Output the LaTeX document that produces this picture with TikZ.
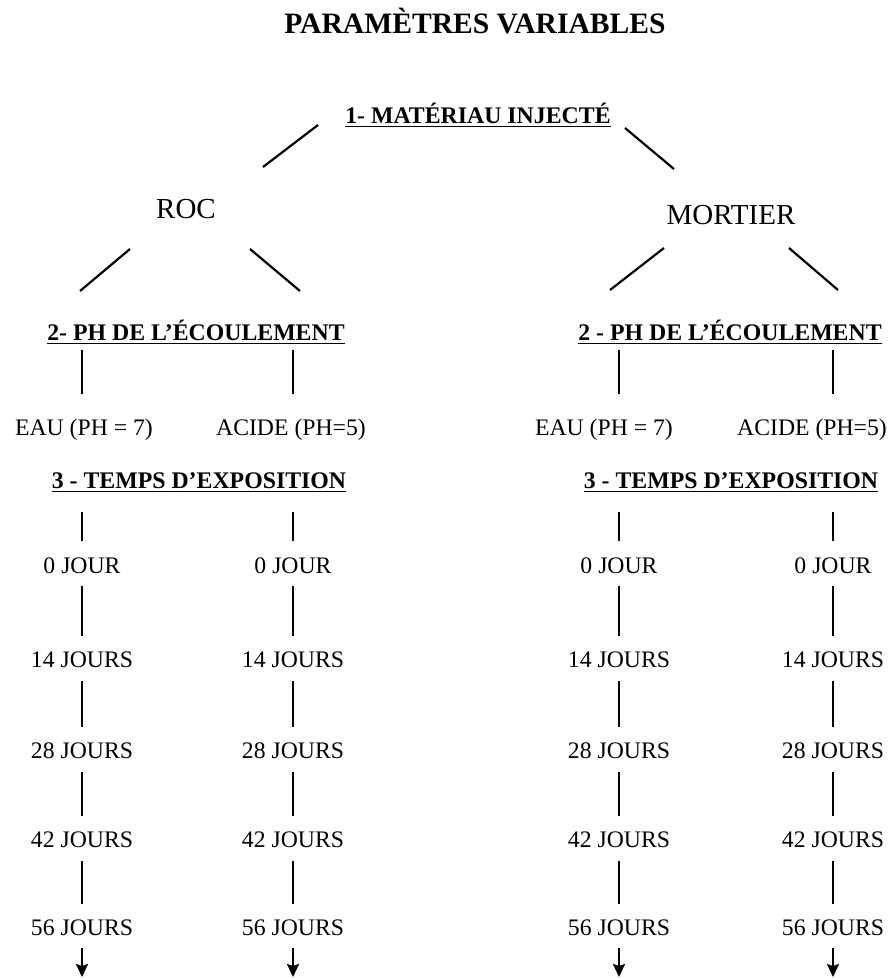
\documentclass[tikz,border=0pt]{standalone}
\usepackage{fontspec}
\setmainfont{Liberation Serif}
\usetikzlibrary{arrows.meta}

\tikzset{
  txt/.style={font=\fontsize{23.7}{28}\selectfont, inner sep=0, text height=16pt, text depth=0pt},
  hdr/.style={font=\fontsize{23.8}{28}\selectfont\bfseries, inner sep=0, text height=16pt, text depth=0pt},
  big/.style={font=\fontsize{29}{34}\selectfont, inner sep=0, text height=19pt, text depth=0pt},
  link/.style={line width=2.2pt},
  ul/.style={line width=1.7pt},
}

\begin{document}
\begin{tikzpicture}[x=1pt,y=-1pt]
\useasboundingbox (0,0) rectangle (890,978);

% title and first level
\node[big,font=\fontsize{29.6}{34}\selectfont\bfseries] (title) at (475,24) {PARAMÈTRES VARIABLES};
\node[hdr] (h1) at (478,115) {1- MATÉRIAU INJECTÉ};
\node[big] (roc) at (186,209) {ROC};
\node[big] (mort) at (731,215) {MORTIER};

% free ends of the slanted lines
\coordinate (h1l) at (318,125); \coordinate (rocu) at (263,167);
\coordinate (h1r) at (625,128); \coordinate (mortu) at (674,169);
\coordinate (rocl) at (130,249); \coordinate (rocll) at (80,291);
\coordinate (rocr) at (250,249); \coordinate (rocrr) at (300,291);
\coordinate (mortl) at (664,248); \coordinate (mortll) at (610,290);
\coordinate (mortr) at (789,248); \coordinate (mortrr) at (838,290);

\draw[link] (rocu) -- (h1l);
\draw[link] (h1r) -- (mortu);
\draw[link] (rocll) -- (rocl);
\draw[link] (rocr) -- (rocrr);
\draw[link] (mortll) -- (mortl);
\draw[link] (mortr) -- (mortrr);

% second level: pH
\node[hdr] (h2L) at (196,332) {2- PH DE L’ÉCOULEMENT};
\node[hdr] (h2R) at (730,332) {2 - PH DE L’ÉCOULEMENT};
\node[txt] (eaua) at (84,427) {EAU (PH = 7)};
\node[txt] (acib) at (291,427) {ACIDE (PH=5)};
\node[txt] (eauc) at (604,427) {EAU (PH = 7)};
\node[txt] (acid) at (812,427) {ACIDE (PH=5)};

% third level: exposure time
\node[hdr] (h3L) at (199,480) {3 - TEMPS D’EXPOSITION};
\node[hdr] (h3R) at (731,480) {3 - TEMPS D’EXPOSITION};

\foreach \h in {h1,h2L,h2R,h3L,h3R}
  \draw[ul] ([yshift=-3.5pt]\h.base west) -- ([yshift=-3.5pt]\h.base east);

\foreach \c/\x/\p/\e in {a/82/h2L/eaua, b/293/h2L/acib, c/619/h2R/eauc, d/833/h2R/acid}{
  \node[txt] (t0\c) at (\x,565) {0 JOUR};
  \foreach \n/\y in {14/659,28/750,42/839,56/927}
    \node[txt] (t\n\c) at (\x,\y) {\n\ JOURS};
  \coordinate (end\c) at (\x,977);
  \draw[link,shorten <=10pt,shorten >=25pt] (\p.south -| t0\c) -- (\e.north -| t0\c);
  \draw[link,shorten <=24pt,shorten >=16pt] (h3L.south -| t0\c) -- (t0\c);
  \draw[link,shorten <=13pt,shorten >=15pt] (t0\c) -- (t14\c);
  \draw[link,shorten <=14pt,shorten >=15pt] (t14\c) -- (t28\c);
  \draw[link,shorten <=14pt,shorten >=15pt] (t28\c) -- (t42\c);
  \draw[link,shorten <=14pt,shorten >=15pt] (t42\c) -- (t56\c);
  \draw[line width=2pt,shorten <=13pt,-{Stealth[length=13pt,width=12pt,inset=2pt]}] (t56\c) -- (end\c);
}
\end{tikzpicture}
\end{document}
